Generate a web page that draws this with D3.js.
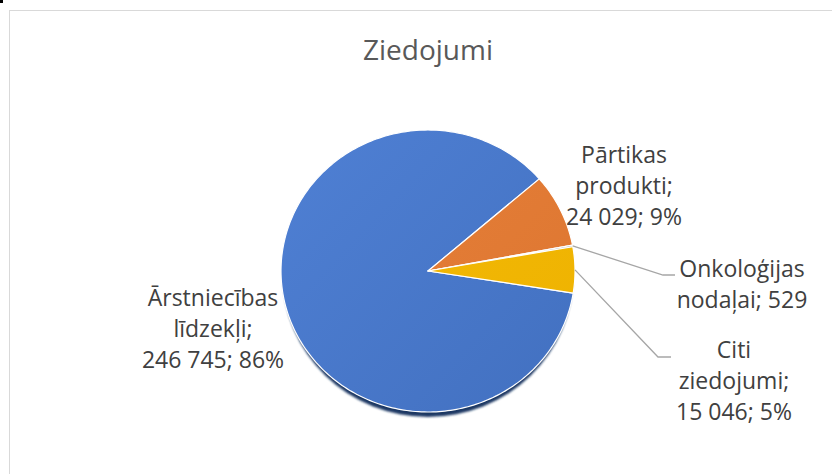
<!DOCTYPE html>
<html>
<head>
<meta charset="utf-8">
<script src="https://cdn.jsdelivr.net/npm/d3@7"></script>
<style>
  body { margin: 0; background: #fff; }
  svg { display: block; font-family: "Open Sans", sans-serif; }
</style>
</head>
<body>
<div id="chart"></div>
<script>
// data
var categories = ["Ārstniecības līdzekļi", "Pārtikas produkti", "Onkoloģijas nodaļai", "Citi ziedojumi"];
var values = [246745, 24029, 529, 15046];
var percents = ["86%", "9%", null, "5%"];
var colors = [["#4f80d4", "#4270c0"], ["#e8813a", "#dc7530"], ["#b0b0b0", "#a5a5a5"], ["#f4bb08", "#eeb200"]];
var title = "Ziedojumi";

var width = 832, height = 474;
var cx = 428, cy = 271, rx = 147, ry = 141;
var startDeg = 99;

// label layout: center x, first baseline y, and leader elbow if any
var labelPos = [
	{x: 213, y: 306},
	{x: 624, y: 163},
	{x: 742, y: 277, elbow: [663, 275], end: 675},
	{x: 734, y: 358, elbow: [658, 357], end: 671}
];
var lineH = 31;

var svg = d3.select("#chart").append("svg")
	.attr("width", width)
	.attr("height", height);

// little mark in the corner of the original
svg.append("rect").attr("x", 0).attr("y", 0).attr("width", 3).attr("height", 3).attr("fill", "#000");

svg.append("rect")
	.attr("x", 9.5).attr("y", 10.5)
	.attr("width", 840).attr("height", 480)
	.attr("fill", "#fff")
	.attr("stroke", "#d9d9d9");

svg.append("text")
	.attr("x", cx).attr("y", 60)
	.attr("text-anchor", "middle")
	.attr("font-size", 28)
	.attr("fill", "#595959")
	.text(title);

var defs = svg.append("defs");
colors.forEach(function(c, i) {
	var g = defs.append("linearGradient")
		.attr("id", "grad" + i)
		.attr("gradientUnits", "userSpaceOnUse")
		.attr("x1", cx - rx).attr("y1", cy - ry)
		.attr("x2", cx + rx).attr("y2", cy + ry);
	g.append("stop").attr("offset", "0%").attr("stop-color", c[0]);
	g.append("stop").attr("offset", "100%").attr("stop-color", c[1]);
});
defs.append("filter").attr("id", "blur")
	.append("feGaussianBlur").attr("stdDeviation", 1.2);

var pie = d3.pie()
	.sort(null)
	.value(d => d)
	.startAngle(startDeg * Math.PI / 180)
	.endAngle(startDeg * Math.PI / 180 + 2 * Math.PI);

var arcs = pie(values);

/* shadow under the pie */
svg.append("ellipse")
	.attr("cx", cx).attr("cy", cy + 5)
	.attr("rx", rx - 2).attr("ry", ry)
	.attr("fill", "#1f3864")
	.attr("filter", "url(#blur)");

// slices of an ellipse, built from the pie angles
function slice(d) {
	var pts = [];
	var n = Math.max(2, Math.ceil((d.endAngle - d.startAngle) / 0.02));
	for (var k = 0; k <= n; k++) {
		var a = d.startAngle + (d.endAngle - d.startAngle) * k / n;
		pts.push([cx + rx * Math.sin(a), cy - ry * Math.cos(a)]);
	}
	return "M" + cx + "," + cy + "L" + pts.map(p => p.join(",")).join("L") + "Z";
}

svg.append("g").selectAll("path")
	.data(arcs).enter()
	.append("path")
	.attr("d", slice)
	.attr("fill", (d, i) => "url(#grad" + i + ")")
	.attr("stroke", "#fff")
	.attr("stroke-width", 1.2)
	.attr("stroke-linejoin", "round");

/* leader lines */
arcs.forEach(function(d, i) {
	var p = labelPos[i];
	if (!p.elbow) return;
	var a = (d.startAngle + d.endAngle) / 2;
	var sx = cx + rx * Math.sin(a), sy = cy - ry * Math.cos(a);
	svg.append("polyline")
		.attr("points", [[sx, sy], p.elbow, [p.end, p.elbow[1]]].map(q => q.join(",")).join(" "))
		.attr("fill", "none")
		.attr("stroke", "#a6a6a6")
		.attr("stroke-width", 1.3);
});

/* labels */
var fmt = v => d3.format(",")(v).replace(/,/g, " ");
categories.forEach(function(c, i) {
	var words = c.split(" ");
	var lines = [words[0]];
	if (percents[i]) {
		lines.push(words[1] + ";");
		lines.push(fmt(values[i]) + "; " + percents[i]);
	} else {
		lines.push(words[1] + "; " + fmt(values[i]));
	}
	var t = svg.append("text")
		.attr("text-anchor", "middle")
		.attr("font-size", 23)
		.attr("fill", "#404040");
	lines.forEach(function(l, k) {
		t.append("tspan")
			.attr("x", labelPos[i].x)
			.attr("y", labelPos[i].y + k * lineH)
			.text(l);
	});
});
</script>
</body>
</html>
